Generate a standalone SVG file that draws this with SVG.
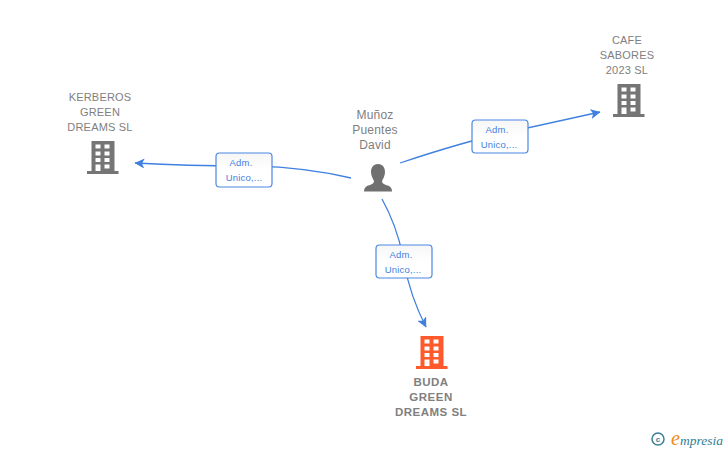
<svg xmlns="http://www.w3.org/2000/svg" width="728" height="450" viewBox="0 0 728 450">
<style>
.n{font:11px "Liberation Sans",Arial,sans-serif;fill:#808080;text-anchor:middle;letter-spacing:.2px}
.p{font-size:12px}
.b{font-weight:bold;font-size:11.5px;letter-spacing:.5px}
.l{font:9.5px "Liberation Sans",Arial,sans-serif;fill:#3f80e0;text-anchor:middle;letter-spacing:.2px}
.c{fill:none;stroke:#3f80e0;stroke-width:1.3}
.r{fill:url(#g);stroke:#4a88e4;stroke-width:1.2}
</style>
<defs>
<linearGradient id="g" x1="0" y1="0" x2="0" y2="1"><stop offset="0" stop-color="#f6f6f6"/><stop offset=".5" stop-color="#fff"/></linearGradient>
<marker id="a" markerUnits="userSpaceOnUse" markerWidth="12" markerHeight="12" refX="9.5" refY="5" orient="auto"><path d="M0 0L10 5L0 10L2.5 5Z" fill="#3f80e0"/></marker>
<g id="bld">
<path fill-rule="evenodd" d="M-11.500-17H11.500V13H15.500V16H-16V13H-11.500ZM-7.500-13.500V-9.500H-2.500V-13.500ZM1.500-13.500V-9.500H6.500V-13.500ZM-7.500-6.500V-2.500H-2.500V-6.500ZM1.500-6.500V-2.500H6.500V-6.500ZM-7.500 0V4H-2.500V0ZM1.500 0V4H6.500V0ZM-7.500 6.500V13H-2.500V6.500ZM1.500 6.500V10.500H6.500V6.500Z"/>
</g>
</defs>
<g id="connectors">
<path class="c" marker-end="url(#a)" d="M351 178Q300 166 244 166T135 163"/>
<path class="c" marker-end="url(#a)" d="M400 163Q460 143 500 134T600 112"/>
<path class="c" marker-end="url(#a)" d="M382 199Q398 228 404 262T426 327"/>
</g>
<g id="edge-kerberos"><rect class="r" x="216" y="153" width="56" height="34" rx="3.500"/><text class="l" x="241" y="166">Adm.</text><text class="l" x="244" y="181">Unico,...</text></g>
<g id="edge-cafe"><rect class="r" x="472" y="120" width="56" height="33" rx="3.500"/><text class="l" x="497" y="133">Adm.</text><text class="l" x="499" y="148">Unico,...</text></g>
<g id="edge-buda"><rect class="r" x="376" y="245" width="56" height="33" rx="3.500"/><text class="l" x="401" y="258">Adm.</text><text class="l" x="403" y="273">Unico,...</text></g>
<g id="node-kerberos"><text class="n" x="100" y="101">KERBEROS</text><text class="n" x="100" y="116">GREEN</text><text class="n" x="100" y="131">DREAMS  SL</text><use href="#bld" x="103" y="158" fill="#757575"/></g>
<g id="node-cafe"><text class="n" x="627" y="44">CAFE</text><text class="n" x="627" y="59">SABORES</text><text class="n" x="627" y="74">2023  SL</text><use href="#bld" x="629" y="101" fill="#757575"/></g>
<g id="node-person"><text class="n p" x="375" y="119">Muñoz</text><text class="n p" x="375" y="134">Puentes</text><text class="n p" x="375" y="149">David</text>
<path fill="#707070" d="M378 164C383 164 385 168 385 172C385 176 383 179 382 181C382 184 386 185 389 186C391 187 392 189 392 191.500H364C364 189 365 187 367 186C370 185 374 184 374 181C373 179 371 176 371 172C371 168 373 164 378 164Z"/></g>
<g id="node-buda"><use href="#bld" x="432" y="353" fill="#ff5a2b"/><text class="n b" x="431" y="386">BUDA</text><text class="n b" x="431" y="401">GREEN</text><text class="n b" x="431" y="416">DREAMS  SL</text></g>
<g id="logo"><circle cx="658" cy="439" r="6" fill="none" stroke="#3a7f96" stroke-width="1.500"/><text x="658" y="442" font-family="Liberation Sans,sans-serif" font-size="8" font-weight="bold" fill="#3a7f96" text-anchor="middle">c</text><text x="671" y="445" font-family="Liberation Serif,serif" font-style="italic" font-size="20" fill="#f08a1d">e</text><text x="680" y="445" font-family="Liberation Serif,serif" font-style="italic" font-size="13.500" fill="#2f7f96">mpresia</text></g>
</svg>
